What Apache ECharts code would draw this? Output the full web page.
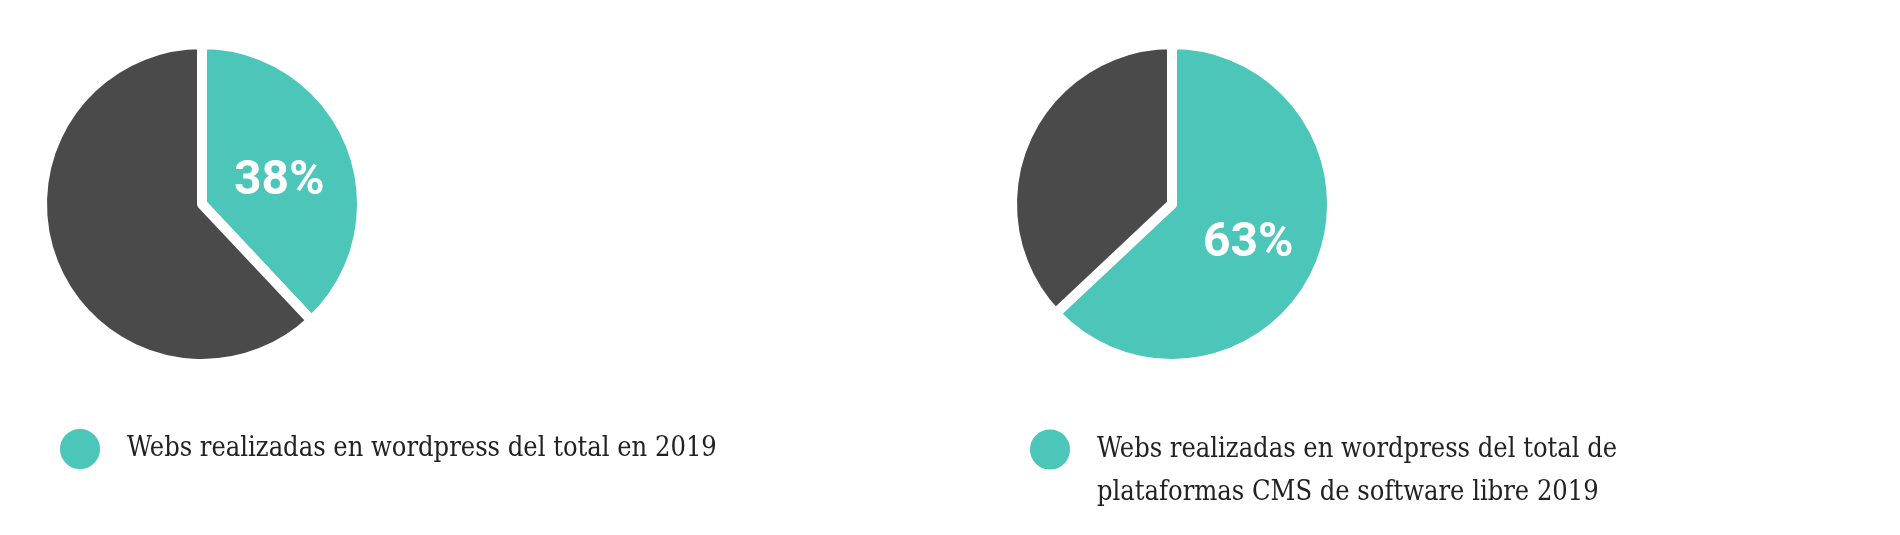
<!DOCTYPE html>
<html>
<head>
<meta charset="utf-8">
<script src="https://cdn.jsdelivr.net/npm/echarts@6/dist/echarts.min.js"></script>
<style>
html,body{margin:0;padding:0;background:#fff;}
#c{width:1900px;height:535px;}
</style>
</head>
<body>
<div id="c"></div>
<script>
const names1 = ['Webs realizadas en wordpress del total en 2019', 'Otras webs'];
const values1 = [38, 62];
const names2 = ['Webs realizadas en wordpress del total de plataformas CMS de software libre 2019', 'Otras plataformas CMS'];
const values2 = [63, 37];
const legendLines2 = ['Webs realizadas en wordpress del total de', 'plataformas CMS de software libre 2019'];
const colors = ['#4BC6B9', '#4A4A4A'];

const chart = echarts.init(document.getElementById('c'), null, {renderer: 'canvas'});

function pieSeries(names, values, center, labelShiftY) {
  return {
    type: 'pie',
    center: center,
    radius: [0, 160],
    startAngle: 90,
    clockwise: true,
    silent: true,
    avoidLabelOverlap: false,
    itemStyle: {borderColor: '#ffffff', borderWidth: 10},
    label: {show: false},
    labelLine: {show: false},
    emphasis: {disabled: true},
    data: names.map((n, i) => ({
      name: n,
      value: values[i],
      itemStyle: {color: colors[i]},
      label: i === 0 ? {
        show: true,
        position: 'inside',
        formatter: '{c}%',
        color: '#ffffff',
        fontFamily: 'Roboto',
        fontWeight: 'bold',
        fontSize: 48,
        offset: [0, labelShiftY]
      } : {show: false}
    }))
  };
}

const legendFont = '"DejaVu Serif Condensed", "DejaVu Serif", serif';

chart.setOption({
  animation: false,
  backgroundColor: '#ffffff',
  legend: [
    {
      data: [names1[0]],
      left: 53, top: 422,
      orient: 'horizontal',
      icon: 'circle',
      itemWidth: 42, itemHeight: 42,
      selectedMode: false,
      textStyle: {fontFamily: legendFont, fontSize: 27, color: '#222222', padding: [0, 0, 0, 21]}
    },
    {
      data: [names2[0]],
      left: 1023, top: 380,
      orient: 'horizontal',
      icon: 'circle',
      itemWidth: 42, itemHeight: 42,
      selectedMode: false,
      formatter: () => '\n' + legendLines2.join('\n'),
      textStyle: {fontFamily: legendFont, fontSize: 27, color: '#222222', lineHeight: 43, padding: [0, 0, 0, 21]}
    }
  ],
  series: [
    pieSeries(names1, values1, [202, 204], 9),
    pieSeries(names2, values2, [1172, 204], 7)
  ]
});
</script>
</body>
</html>
